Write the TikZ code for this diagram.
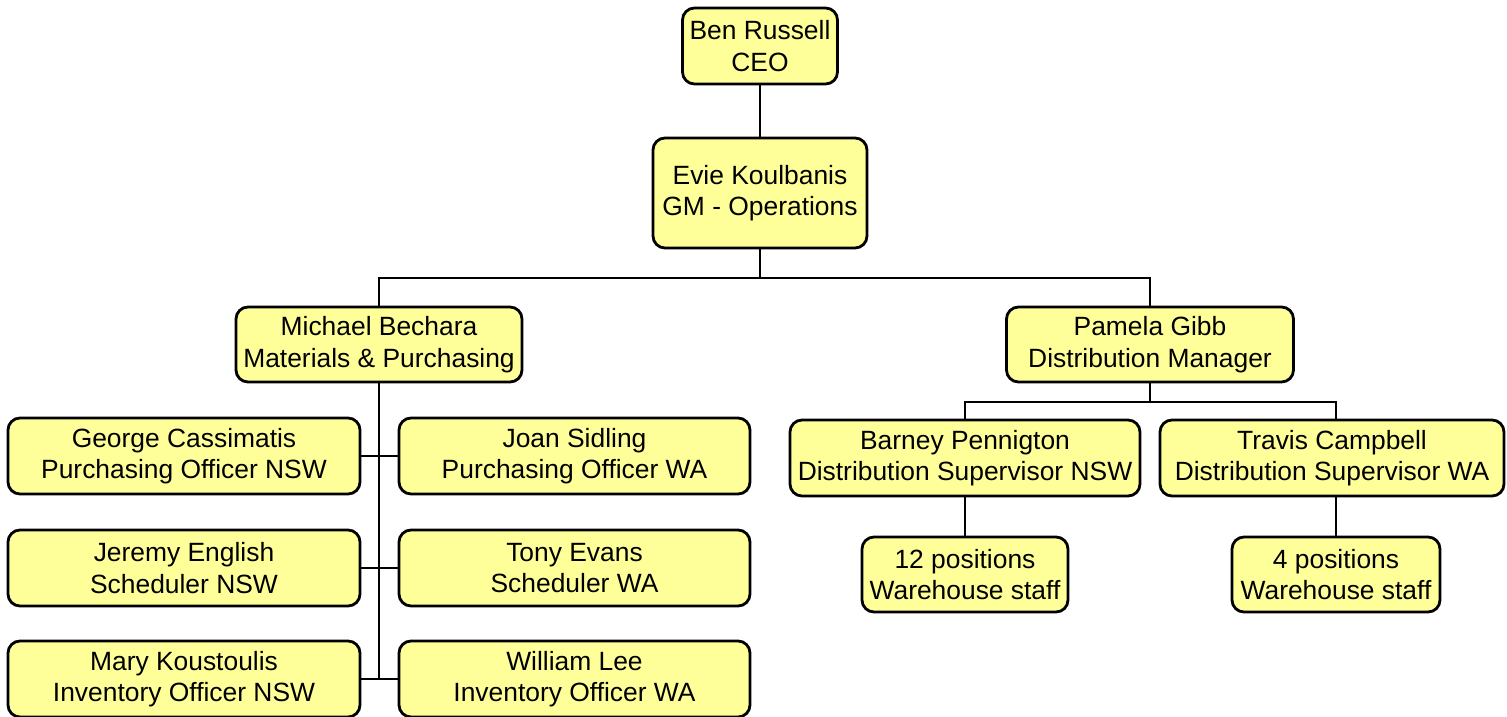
\documentclass[tikz,border=0pt]{standalone}
\usepackage{fontspec}
\setmainfont{Liberation Sans}
\usetikzlibrary{positioning}
\definecolor{boxyellow}{RGB}{255,255,153}
\tikzset{
    person/.style={draw, line width=2.8pt, rounded corners=12pt, fill=boxyellow, align=center, inner sep=0pt, font=\fontsize{26.4}{31.5}\selectfont},
    link/.style={line width=2.8pt}
}

\begin{document}
\begin{tikzpicture}[x=1pt, y=-1pt]
    \useasboundingbox (0,0) rectangle (1507,716);
    \node (ceo) [person, minimum width=155, minimum height=76] at (760,46) {Ben Russell\\CEO};
    \node (gm) [person, minimum width=214, minimum height=110] at (760,193) {Evie Koulbanis\\GM - Operations};
    \node (michael) [person, minimum width=286, minimum height=75] at (379,344.5) {Michael Bechara\\Materials \& Purchasing};
    \node (pamela) [person, minimum width=287, minimum height=75] at (1150,344.5) {Pamela Gibb\\Distribution Manager};
    \node (george) [person, minimum width=352, minimum height=76] at (184,456) {George Cassimatis\\Purchasing Officer NSW};
    \node (joan) [person, minimum width=351, minimum height=76] at (574.5,456) {Joan Sidling\\Purchasing Officer WA};
    \node (jeremy) [person, minimum width=352, minimum height=76] at (184,568) {Jeremy English\\Scheduler NSW};
    \node (tony) [person, minimum width=351, minimum height=76] at (574.5,568) {Tony Evans\\Scheduler WA};
    \node (mary) [person, minimum width=352, minimum height=76] at (184,679) {Mary Koustoulis\\Inventory Officer NSW};
    \node (william) [person, minimum width=351, minimum height=76] at (574.5,679) {William Lee\\Inventory Officer WA};
    \node (barney) [person, minimum width=350, minimum height=76] at (965,458) {Barney Pennigton\\Distribution Supervisor NSW};
    \node (travis) [person, minimum width=344, minimum height=76] at (1332,458) {Travis Campbell\\Distribution Supervisor WA};
    \node (twelve) [person, minimum width=206, minimum height=75] at (965,574.5) {12 positions\\Warehouse staff};
    \node (four) [person, minimum width=208, minimum height=75] at (1336,574.5) {4 positions\\Warehouse staff};

    \coordinate (gmfork) at (760,278);
    \coordinate (pamfork) at (1150,402);

    \draw [link] (ceo) -- (gm);
    \draw [link] (gm) -- (gmfork);
    \draw [link] (michael.north) |- (gmfork) -| (pamela.north);
    \draw [link] (michael.south) -- (michael.south |- mary.east);
    \foreach \l/\r in {george/joan, jeremy/tony, mary/william}
        \draw [link] (\l.east) -- (\r.west);
    \draw [link] (pamela) -- (pamfork);
    \draw [link] (barney.north) |- (pamfork) -| (four.north |- travis.north);
    \draw [link] (barney) -- (twelve);
    \draw [link] (four.north) -- (four.north |- travis.south);
\end{tikzpicture}
\end{document}
